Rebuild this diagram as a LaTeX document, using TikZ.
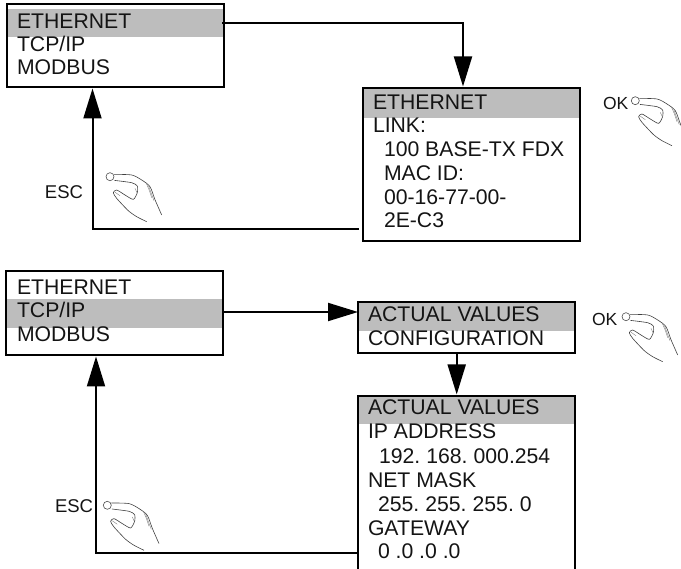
\documentclass[tikz,border=0pt]{standalone}
\usepackage{fontspec}
\setmainfont{Liberation Sans}
\usetikzlibrary{arrows.meta}
\newcommand{\tightwords}{\spaceskip=4.1pt\relax}
\tikzset{
  x=1pt,y=-1pt,
  menubox/.style={draw=black,line width=2pt,rectangle,anchor=north west,inner sep=0pt,outer sep=0pt},
  band/.style={fill=bandgrey,draw=none},
  lab/.style={anchor=base west,inner sep=0pt,outer sep=0pt,font=\fontsize{21.2}{23}\selectfont,text=black!92},
  key/.style={anchor=base west,inner sep=0pt,outer sep=0pt,font=\fontsize{18.5}{20}\selectfont,text=black!92},
  flow/.style={line width=2pt,-{Triangle[length=30pt,width=18pt]}},
  hand/.pic={
    \draw[line width=.6pt,black!70] (0,0) circle[radius=4];
    \draw[line width=.6pt,black!75,line join=round] plot[smooth,tension=.45] coordinates{(4,-2.3)(21.7,-1.7)(31.7,3.3)(40,10)(45,23)(51.7,38.3)};
    \draw[line width=.6pt,black!75,line join=round] plot[smooth,tension=.4] coordinates{(4.5,3.7)(21.7,6)(27.3,9.3)(27.3,16)(23.3,22.7)(15,18.3)(6.7,13.3)(3.3,16)(6.7,21.7)(18.3,34)(26.7,40)(36.7,45)};
    \draw[line width=.4pt,black!50] plot[smooth] coordinates{(36,6)(39,13)(41.7,21)};
    \draw[line width=.4pt,black!50] plot[smooth] coordinates{(38.5,9)(41,16)(44,24)};
    \draw[line width=.4pt,black!50] (25,11.7) -- (27,16);
    \draw[line width=.4pt,black!50] (5,15.5) -- (10,19);
  }
}
\definecolor{bandgrey}{HTML}{BDBDBD}
\begin{document}
\begin{tikzpicture}
\useasboundingbox (0,0) rectangle (681,569);
\clip (0,0) rectangle (681,569);
% grey bands
\fill[band] (8,9) rectangle (223,37.5);
\fill[band] (364,89) rectangle (580,118);
\fill[band] (7,299) rectangle (222,328);
\fill[band] (358,303) rectangle (575,331);
\fill[band] (358,397) rectangle (575,424);
% boxes
\node[menubox,minimum width=217pt,minimum height=83pt] (m1) at (7,4) {};
\node[menubox,minimum width=217pt,minimum height=153pt] (d1) at (363,88) {};
\node[menubox,minimum width=217pt,minimum height=84pt] (m2) at (6,271) {};
\node[menubox,minimum width=217pt,minimum height=51pt] (s2) at (358,302) {};
\node[menubox,minimum width=217pt,minimum height=190pt] (d2) at (358,396) {};
% texts
\node[lab] (t1) at (17,29) {ETHERNET};
\node[lab] (t2) at (17,52) {TCP/IP};
\node[lab] (t3) at (17,75) {MODBUS};
\node[lab] (t4) at (373,110) {ETHERNET};
\node[lab] (t5) at (373,133) {LINK:};
\node[lab] (t6) at (384,157) {100 BASE-TX FDX};
\node[lab] (t7) at (384,181) {MAC ID:};
\node[lab] (t8) at (384,205) {00-16-77-00-};
\node[lab] (t9) at (384,228) {2E-C3};
\node[lab] (t10) at (17,295) {ETHERNET};
\node[lab] (t11) at (17,318) {TCP/IP};
\node[lab] (t12) at (17,342) {MODBUS};
\node[lab] (t13) at (368,322) {ACTUAL VALUES};
\node[lab] (t14) at (368,346) {CONFIGURATION};
\node[lab] (t15) at (368,415) {ACTUAL VALUES};
\node[lab] (t16) at (368,439) {IP ADDRESS};
\node[lab] (t17) at (379,464) {\tightwords 192. 168. 000.254};
\node[lab] (t18) at (368,488) {NET MASK};
\node[lab] (t19) at (378,512) {\tightwords 255. 255. 255. 0};
\node[lab] (t20) at (368,536) {GATEWAY};
\node[lab] (t21) at (378,559) {0 .0 .0 .0};
\node[key] (esc1) at (45,199) {ESC};
\node[key] (esc2) at (55,513) {ESC};
\node[key,font=\fontsize{17.5}{20}\selectfont] (ok1) at (603,110) {OK};
\node[key,font=\fontsize{17.5}{20}\selectfont] (ok2) at (592,326) {OK};
% hands
\pic at (110,176.7) {hand};
\pic at (635.3,100.7) {hand};
\pic at (107.3,505.3) {hand};
\pic at (626,316.7) {hand};
% connectors
\coordinate (a1) at (222,23);
\coordinate (a2) at (463,23);
\coordinate (b1) at (359,229);
\coordinate (b2) at (92.5,229);
\coordinate (c1) at (358,553);
\coordinate (c2) at (96,553);
\draw[flow] (a1) -- (a2) -- ([yshift=1.5pt]a2 |- d1.north);
\draw[flow] (b1) -- (b2) -- ([yshift=-1.5pt]b2 |- m1.south);
\draw[flow] (m2.east |- 0,312) -- (s2.west |- 0,312);
\draw[flow] (s2.south -| 456.7,0) -- ([yshift=1.5pt]d2.north -| 456.7,0);
\draw[flow] (c1) -- (c2) -- ([yshift=-1.5pt]c2 |- m2.south);
\end{tikzpicture}
\end{document}
